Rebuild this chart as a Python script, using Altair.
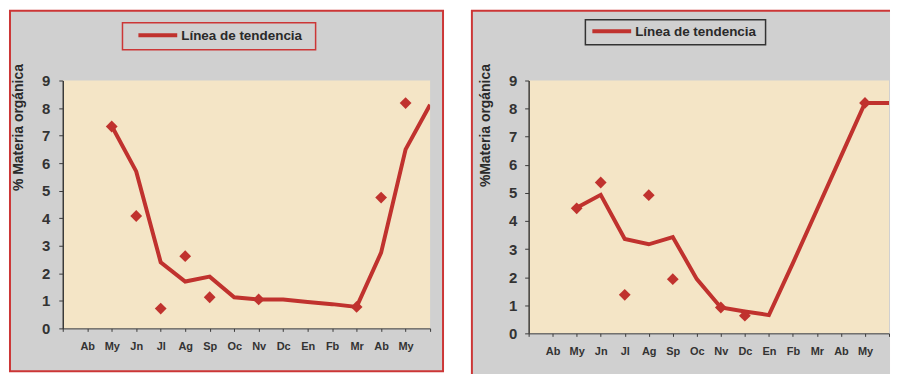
import json
import altair as alt
import pandas as pd

# ---- data ----
month_labels = ["", "Ab", "My", "Jn", "Jl", "Ag", "Sp", "Oc", "Nv", "Dc", "En", "Fb", "Mr", "Ab", "My", ""]

left_trend = [None, None, 7.35, 5.7, 2.4, 1.7, 1.88, 1.13, 1.05, 1.05, 0.96, 0.88, 0.78, 2.75, 6.5, 8.12]
left_obs = [None, None, 7.33, 4.08, 0.72, 2.62, 1.13, None, 1.05, None, None, None, 0.78, 4.75, 8.18, None]

right_trend = [None, None, 4.47, 4.93, 3.36, 3.17, 3.43, 1.93, 0.92, 0.78, 0.65, 2.5, 4.4, 6.3, 8.2, 8.2]
right_obs = [None, None, 4.45, 5.37, 1.37, 4.92, 1.93, None, 0.92, 0.63, None, None, None, None, 8.2, None]

series_name = "Línea de tendencia"
left_title = "% Materia orgánica"
right_title = "%Materia orgánica"

RED = "#c0322e"
BORDER_RED = "#cc3636"
GREY = "#d0d0d0"
PAPER = "#f4e5c6"
FONT = "Liberation Sans"
TXT = "#2a2a2a"

label_expr = json.dumps(month_labels) + "[datum.value]"


def make_df(trend, obs):
    rows = []
    for i, (t, o) in enumerate(zip(trend, obs)):
        rows.append({"pos": i, "trend": t, "obs": o})
    return pd.DataFrame(rows)


def panel(trend, obs, W, H, title, ylab_pad, tx, ty, leg, box, box_color, frame, open_edges):
    df = make_df(trend, obs)
    xs = alt.Scale(domain=[0, 15], nice=False, zero=False)
    ys = alt.Scale(domain=[0, 9], nice=False, zero=True)
    x_axis = alt.Axis(values=list(range(16)), labelExpr=label_expr, tickSize=3, labelPadding=9,
                      labelFont=FONT, labelFontSize=11, labelFontWeight="bold", labelColor="#333",
                      labelAngle=0, labelOverlap=False, labelFlush=False, grid=False, title=None,
                      domainColor="#3a3a3a", tickColor="#3a3a3a", domainWidth=1, zindex=1)
    y_axis = alt.Axis(values=list(range(10)), tickSize=4, labelPadding=ylab_pad, labelFont=FONT,
                      labelFontSize=15, labelFontWeight="bold", labelColor="#333", grid=False,
                      labelOverlap=False, labelFlush=False,
                      title=title, titleFont=FONT, titleFontSize=14, titleFontWeight="bold",
                      titleColor=TXT, titleAngle=270, titleAlign="right", titleBaseline="bottom",
                      titleX=tx, titleY=ty, domainColor="#3a3a3a", tickColor="#3a3a3a",
                      domainWidth=1.5, zindex=1)

    fx0, fy0, fx1, fy1 = frame
    inset_r = 0 if open_edges else 2
    one = pd.DataFrame({"serie": [series_name]})
    layers = [
        # red frame underneath, grey panel inset on top of it
        alt.Chart(one).mark_rect(fill=BORDER_RED).encode(
            x=alt.value(fx0), x2=alt.value(W + fx1), y=alt.value(fy0), y2=alt.value(H + fy1)),
        alt.Chart(one).mark_rect(fill=GREY).encode(
            x=alt.value(fx0 + 2), x2=alt.value(W + fx1 - inset_r), y=alt.value(fy0 + 2),
            y2=alt.value(H + fy1 - inset_r)),
        alt.Chart(one).mark_rect(fill=PAPER).encode(
            x=alt.value(0), x2=alt.value(W), y=alt.value(0), y2=alt.value(H)),
    ]
    bx0, by0, bx1, by1 = box
    lx, ly = leg
    layers += [
        alt.Chart(one).mark_rect(fill=GREY, stroke=box_color, strokeWidth=1.5).encode(
            x=alt.value(bx0), x2=alt.value(bx1), y=alt.value(by0), y2=alt.value(by1)),
        # legend entry: line sample + label
        alt.Chart(one).mark_rule(color=RED, strokeWidth=4).encode(
            x=alt.value(lx), x2=alt.value(lx + 39), y=alt.value(ly)),
        alt.Chart(one).mark_text(align="left", baseline="middle", font=FONT, fontSize=13.5,
                                 fontWeight="bold", color=TXT).encode(
            text="serie:N", x=alt.value(lx + 43), y=alt.value(ly + 0.5)),
    ]

    line = alt.Chart(df).mark_line(strokeWidth=4, strokeJoin="miter", clip=True, color=RED).encode(
        x=alt.X("pos:Q", scale=xs, axis=x_axis),
        y=alt.Y("trend:Q", scale=ys, axis=y_axis),
    )
    pts = alt.Chart(df).mark_point(shape="diamond", filled=True, size=140, opacity=1, color=RED).encode(
        x=alt.X("pos:Q", scale=xs, axis=x_axis),
        y=alt.Y("obs:Q", scale=ys, axis=y_axis),
    )
    layers += [line, pts]
    return alt.layer(*layers).properties(width=W, height=H)


left = panel(left_trend, left_obs, 369, 249, left_title, 9, -37, -17, (76, -45.5),
             (60, -58, 254, -31), BORDER_RED, (-54, -71, 14, 44), False)
right = panel(right_trend, right_obs, 362, 254, right_title, 8, -36, -17, (64, -49.5),
              (57, -61, 238, -36), "#333333", (-58, -71, 1, 41), True)

chart = alt.hconcat(left, right, spacing=25).properties(
    padding=0, background="white"
).configure_view(stroke="transparent")

chart.save("out.html", embed_options={"renderer": "svg", "actions": False})
